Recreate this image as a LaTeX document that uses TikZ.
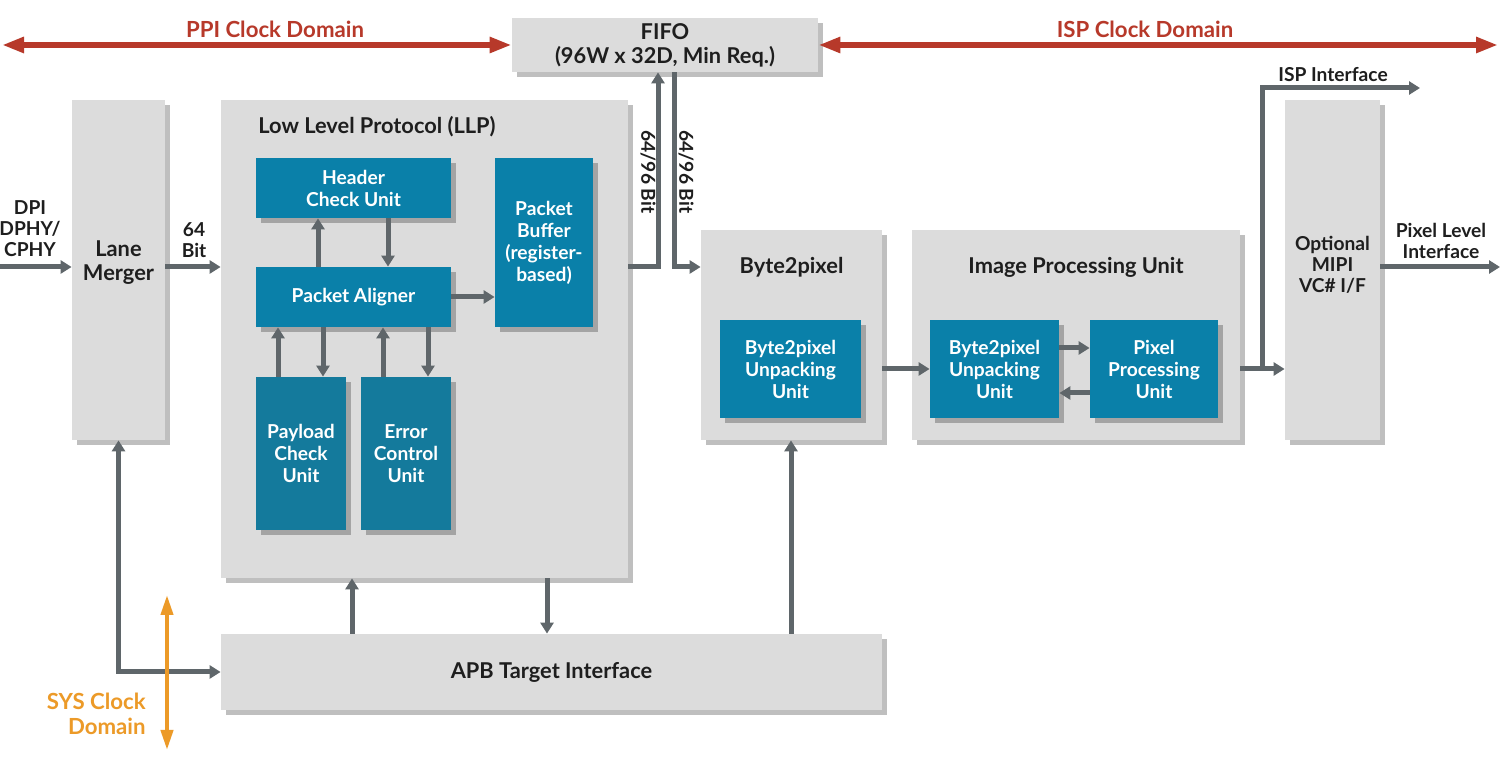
\documentclass[tikz,border=0pt]{standalone}
\usepackage{fontspec}
\setmainfont{Lato}
\usetikzlibrary{arrows.meta,shadows,calc}
\definecolor{boxgray}{HTML}{DCDCDC}
\definecolor{bblue}{HTML}{0A80A9}
\definecolor{bblueb}{HTML}{147A9C}
\definecolor{agray}{HTML}{5F666A}
\definecolor{txt}{HTML}{1E1E1E}
\definecolor{dred}{HTML}{B7392A}
\definecolor{dorange}{HTML}{EC9A28}
\begin{document}
\begin{tikzpicture}[x=0.5pt,y=-0.5pt,
  every node/.style={font=\bfseries\fontsize{9.6}{11}\selectfont, text=txt, align=center, inner sep=0pt},
  shad/.style={drop shadow={shadow xshift=2.5pt,shadow yshift=-2.5pt,fill=black,opacity=.25}},
  gbox/.style={fill=boxgray, draw=none, shad},
  bbox/.style={fill=bblue, draw=none, text=white, shad},
  bboxb/.style={bbox, fill=bblueb},
  title/.style={font=\bfseries\fontsize{10.9}{12}\selectfont},
  small/.style={font=\bfseries\fontsize{9.6}{10.5}\selectfont},
  dom/.style={font=\bfseries\fontsize{11.1}{12.5}\selectfont},
  arr/.style={draw=agray, line width=2.5pt, -{Triangle[length=5.5pt,width=6.5pt]}},
  darr/.style={draw=agray, line width=2.5pt, {Triangle[length=5.5pt,width=6.5pt]}-{Triangle[length=5.5pt,width=6.5pt]}},
  rarr/.style={draw=dred, line width=3pt, {Triangle[length=11pt,width=7.5pt]}-{Triangle[length=11pt,width=7.5pt]}},
  oarr/.style={draw=dorange, line width=2pt, {Triangle[length=10pt,width=6pt]}-{Triangle[length=10pt,width=6pt]}}
]
\useasboundingbox[fill=white] (0,0) rectangle (1500,763);

% ---------- boxes ----------
\node[gbox, minimum width=153pt, minimum height=27pt, title] (fifo) at (665,45) {FIFO\\(96W x 32D, Min Req.)};
\node[gbox, minimum width=46.5pt, minimum height=170pt] (lm) at (118.5,270) {};
\node[title] (lmt) at (118.5,263) {Lane\\Merger};
\node[gbox, minimum width=203.5pt, minimum height=239pt] (llp) at (424.5,339) {};
\node[title] (llpt) at (377,127) {Low Level Protocol (LLP)};
\node[bbox, minimum width=97.5pt, minimum height=30pt] (hcu) at (353.5,188) {Header\\Check Unit};
\node[bbox, minimum width=97.5pt, minimum height=30pt] (pa) at (353.5,297) {Packet Aligner};
\node[bbox, minimum width=49pt, minimum height=84.5pt] (pb) at (544,242.5) {Packet\\Buffer\\(register-\\based)};
\node[bboxb, minimum width=45pt, minimum height=76.5pt] (plc) at (301,453.5) {Payload\\Check\\Unit};
\node[bboxb, minimum width=45pt, minimum height=76.5pt] (ecu) at (406,453.5) {Error\\Control\\Unit};

\node[gbox, minimum width=90.5pt, minimum height=105pt] (b2p) at (791.5,335) {};
\node[title] (b2pt) at (791.5,267) {Byte2pixel};
\node[bbox, minimum width=70.5pt, minimum height=49pt] (b2pu) at (790.5,369) {Byte2pixel\\Unpacking\\Unit};

\node[gbox, minimum width=164pt, minimum height=105pt] (ipu) at (1076,335) {};
\node[title] (iput) at (1076,267) {Image Processing Unit};
\node[bbox, minimum width=64.5pt, minimum height=49pt] (ipub) at (994.5,369) {Byte2pixel\\Unpacking\\Unit};
\node[bbox, minimum width=64pt, minimum height=49pt] (ppu) at (1154,369) {Pixel\\Processing\\Unit};

\node[gbox, minimum width=47.5pt, minimum height=170pt] (mipi) at (1332.5,270) {};
\node[small] (mipit) at (1332.5,265) {Optional\\MIPI\\VC\# I/F};

\node[gbox, minimum width=330.5pt, minimum height=38pt, title] (apb) at (551.5,672) {APB Target Interface};

% ---------- labels ----------
\node[dom, text=dred] (ppil) at (275,29) {PPI Clock Domain};
\node[dom, text=dred] (ispl) at (1145,29) {ISP Clock Domain};
\node[small] (dpil) at (30,229) {DPI\\DPHY/\\CPHY};
\node[small] (bit64) at (194,240) {64\\Bit};
\node[small, rotate=-90] (bw1) at (648,172) {64/96 Bit};
\node[small, rotate=-90] (bw2) at (686,172) {64/96 Bit};
\node[small] (ispil) at (1333,75) {ISP Interface};
\node[small] (plil) at (1441,241) {Pixel Level\\Interface};
\node[dom, text=dorange, anchor=east, align=right] (sysl) at (146,714) {SYS Clock\\Domain};

% ---------- helper coordinates ----------
\coordinate (ppiL) at (2,45);
\coordinate (ispR) at (1498,45);
\coordinate (dpiin) at (0,267);
\coordinate (rowA) at (0,267);
\coordinate (rowB) at (0,369);
\coordinate (ispout) at (1420,88);
\coordinate (plout) at (1500,267);
\coordinate (split) at (1262,369);
\coordinate (sysT) at (167,595);
\coordinate (sysB) at (167,750);
\coordinate (xa) at (352,0);
\coordinate (xb) at (547,0);
\coordinate (xc) at (791,0);
\coordinate (xh1) at (318,0);
\coordinate (xh2) at (388,0);
\coordinate (xp1) at (278,0);
\coordinate (xp2) at (323,0);
\coordinate (xe1) at (383,0);
\coordinate (xe2) at (428,0);
\coordinate (xf1) at (658,0);
\coordinate (xf2) at (674,0);

% ---------- clock domains ----------
\draw[rarr] (ppiL) -- (fifo.west);
\draw[rarr] (fifo.east) -- (ispR);

% ---------- connectors ----------
\draw[arr] (dpiin) -- (lm.west |- rowA);
\draw[arr] (lm.east |- rowA) -- (llp.west |- rowA);
\draw[arr] (llp.east |- rowA) -| (fifo.south -| xf1);
\draw[arr] (fifo.south -| xf2) |- (b2p.west |- rowA);

\draw[arr] (pa.north -| xh1) -- (hcu.south -| xh1);
\draw[arr] (hcu.south -| xh2) -- (pa.north -| xh2);
\draw[arr] (pa.east) -- (pb.west |- pa.east);
\draw[arr] (plc.north -| xp1) -- (pa.south -| xp1);
\draw[arr] (pa.south -| xp2) -- (plc.north -| xp2);
\draw[arr] (ecu.north -| xe1) -- (pa.south -| xe1);
\draw[arr] (pa.south -| xe2) -- (ecu.north -| xe2);

\draw[arr] (b2p.east |- rowB) -- (ipub.west |- rowB);
\draw[arr] ($(ipub.east)+(0,-21)$) -- ($(ppu.west)+(0,-21)$);
\draw[arr] ($(ppu.west)+(0,24)$) -- ($(ipub.east)+(0,24)$);
\draw[arr] (ipu.east |- rowB) -- (mipi.west |- rowB);
\draw[arr] (split) |- (ispout);
\draw[arr] (mipi.east |- plout) -- (plout);

\draw[arr] (apb.north -| xa) -- (llp.south -| xa);
\draw[arr] (llp.south -| xb) -- (apb.north -| xb);
\draw[arr] (apb.north -| xc) -- (b2p.south -| xc);
\draw[darr] (lm.south) |- (apb.west);

\draw[oarr] (sysT) -- (sysB);
\end{tikzpicture}
\end{document}
